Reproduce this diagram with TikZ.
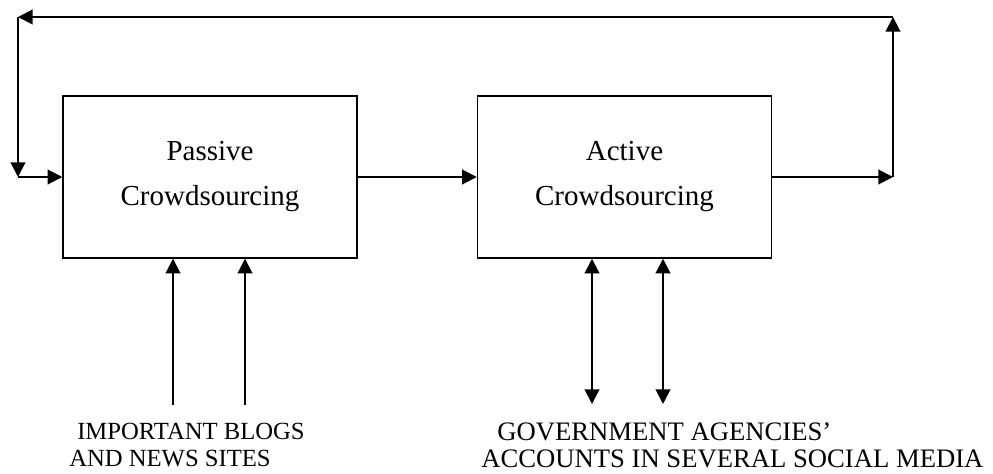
\documentclass[tikz,border=0pt]{standalone}
\usepackage{fontspec}
\setmainfont{Liberation Serif}
\usetikzlibrary{arrows.meta, positioning}

\begin{document}
\begin{tikzpicture}[x=0.75pt, y=-0.75pt,
    etapa/.style={draw, line width=1.1pt, minimum width=220.5pt, minimum height=121.5pt,
                  inner sep=0pt, align=center, font=\fontsize{21.75}{33.75}\selectfont},
    seta/.style={-{Triangle[length=11pt, width=11pt]}, line width=1.5pt},
    dupla/.style={{Triangle[length=11pt, width=11pt]}-{Triangle[length=11pt, width=11pt]}, line width=1.5pt},
    rotulo/.style={anchor=north west, inner sep=0pt, align=left}
]
    \useasboundingbox (0,0) rectangle (993,474);

    \node[etapa] (passiva) at (210,177) {Passive\\Crowdsourcing};
    \node[etapa] (ativa) at (624.5,177) {Active\\Crowdsourcing};

    % laco de retorno
    \coordinate (saida) at (893,177);
    \coordinate (cantoD) at (893,17);
    \coordinate (cantoE) at (18,17);
    \coordinate (retorno) at (18,177);

    \draw[seta] (passiva) -- (ativa);
    \draw[seta] (ativa) -- (saida);
    \draw[seta] (saida) -- (cantoD);
    \draw[seta] (cantoD) -- (cantoE);
    \draw[seta] (cantoE) -- (retorno);
    \draw[seta] (retorno) -- (passiva);

    % entradas e saidas de baixo
    \coordinate (blog1) at (173,405);
    \coordinate (blog2) at (245,405);
    \coordinate (gov1) at (592,404);
    \coordinate (gov2) at (663,404);

    \draw[seta] (blog1) -- (blog1 |- passiva.south);
    \draw[seta] (blog2) -- (blog2 |- passiva.south);
    \draw[dupla] (gov1 |- ativa.south) -- (gov1);
    \draw[dupla] (gov2 |- ativa.south) -- (gov2);

    \node[rotulo, font=\fontsize{18.5}{20.25}\selectfont] (blogs) at (69,423)
        {\hspace*{6pt}IMPORTANT BLOGS\\AND NEWS SITES};
    \node[rotulo, font=\fontsize{20}{20.25}\selectfont] (agencias) at (481,422)
        {\hspace*{12pt}GOVERNMENT AGENCIES’\\ACCOUNTS IN SEVERAL SOCIAL MEDIA};
\end{tikzpicture}
\end{document}
